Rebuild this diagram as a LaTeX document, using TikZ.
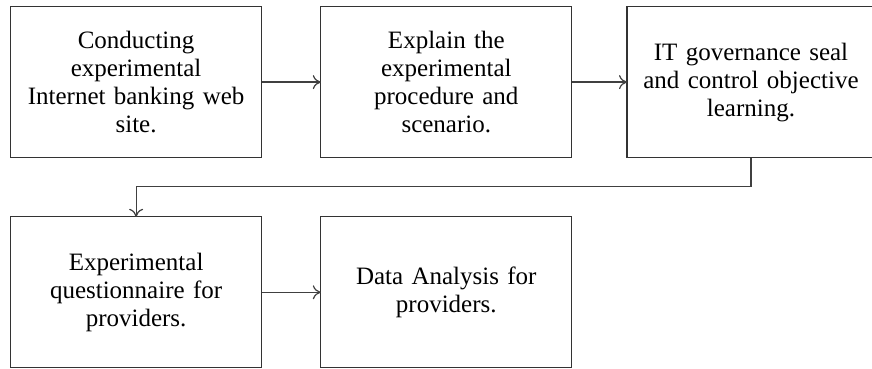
\documentclass[tikz,border=0pt]{standalone}
\usepackage{fontspec}
\setmainfont{Liberation Serif}
\usetikzlibrary{matrix,arrows,arrows.meta}

\begin{document}
\begin{tikzpicture}[x=0.5pt,y=-0.5pt,
link/.style={-{To[length=4pt,width=7pt]}, draw=black!75, line width=0.6pt}]
\useasboundingbox (0,0) rectangle (872,369);
\matrix[matrix of nodes, anchor=north west, inner sep=0pt, outer sep=0pt,
column sep=29pt, row sep=29pt,
nodes={draw=black!80, line width=0.6pt, minimum width=125.5pt, minimum height=75.5pt,
  text width=118pt, align=center, inner sep=0pt, outer sep=0pt, anchor=center,
  font=\fontsize{12.5}{14}\selectfont},
row 1 column 3/.style={nodes={minimum width=124pt, text width=118pt}}
] (flow) at (10,6) {
{Conducting\\experimental\\Internet banking web\\site.} &
{Explain the\\experimental\\procedure and\\scenario.} &[-2pt]
{IT governance seal\\and control objective\\learning.} \\
{Experimental\\questionnaire for\\providers.} &
{Data Analysis for\\providers.} & \\};

\draw[link] (flow-1-1) -- (flow-1-2);
\draw[link] (flow-1-2) -- (flow-1-3);
\draw[link] (flow-1-3.south) -- ++(0,29) -| (flow-2-1.north);
\draw[link] (flow-2-1) -- (flow-2-2);

\end{tikzpicture}
\end{document}
